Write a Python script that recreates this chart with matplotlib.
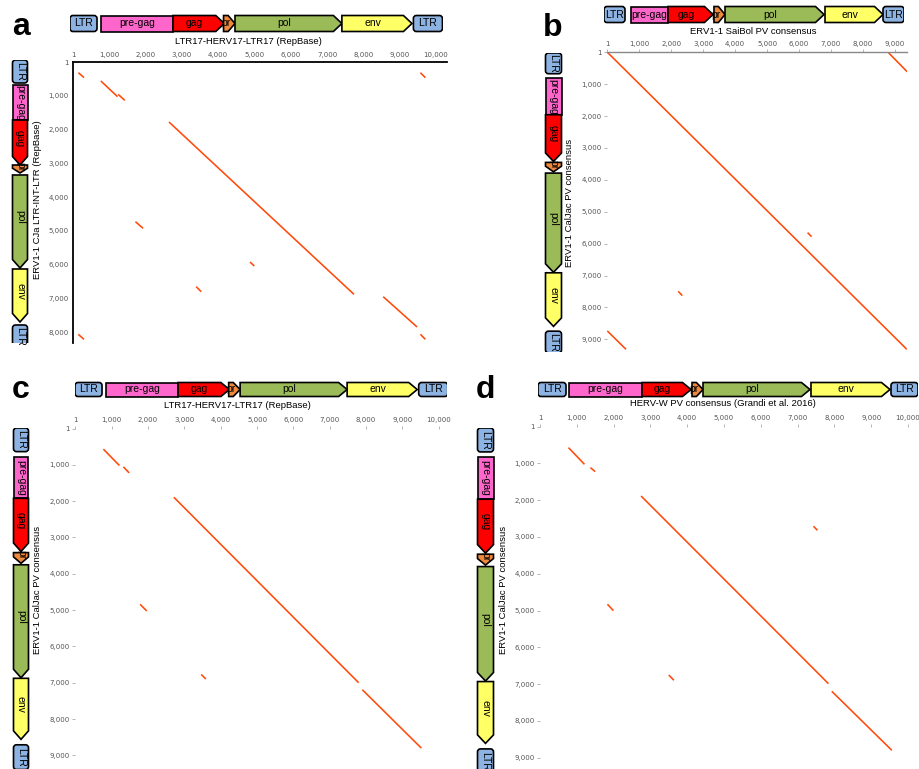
import numpy as np
import matplotlib
matplotlib.use('Agg')
import matplotlib.pyplot as plt
from matplotlib.patches import FancyBboxPatch, Polygon

plt.rcParams['font.family'] = ['Liberation Sans', 'DejaVu Sans']

W, H = 919, 769

# ---- genome annotation tracks (bp) ----
track_names = ['LTR', 'pre-gag', 'gag', 'pr', 'pol', 'env', 'LTR']

herv17_start = [0, 854, 2837, 4230, 4545, 7490, 9460]
herv17_end = [744, 2837, 4250, 4545, 7490, 9420, 10260]

cja_start = [0, 740, 1775, 3107, 3402, 6183, 7840]
cja_end = [680, 1775, 3107, 3343, 6154, 7751, 8520]

saibol_start = [0, 845, 2002, 3441, 3786, 6915, 8730]
saibol_end = [657, 2002, 3410, 3786, 6884, 8730, 9387]

caljac_start = [0, 790, 1935, 3430, 3765, 6890, 8720]
caljac_end = [650, 1935, 3400, 3725, 6875, 8570, 9400]

hervw_start = [0, 842, 2826, 4185, 4484, 7418, 9592]
hervw_end = [761, 2826, 4158, 4484, 7391, 9565, 10326]

# ---- dot plot matches (x start, x end, y start, y end) ----
a_x0 = [150, 768, 1244, 2644, 9570, 1720, 4877, 3394, 8545, 146, 9570]
a_x1 = [302, 1226, 1427, 7740, 9707, 1930, 4995, 3531, 9478, 302, 9707]
a_y0 = [316, 562, 957, 1775, 316, 4724, 5917, 6647, 6943, 8057, 8057]
a_y1 = [463, 1026, 1134, 6874, 463, 4921, 6036, 6795, 7840, 8205, 8205]

b_x0 = [0, 8801, 0, 6267, 2221]
b_x1 = [9370, 9385, 584, 6392, 2346]
b_y0 = [0, 18, 8738, 5657, 7496]
b_y1 = [9313, 616, 9313, 5783, 7632]

c_x0 = [771, 1322, 2709, 7897, 1781, 3462]
c_x1 = [1212, 1478, 7796, 9522, 1965, 3590]
c_y0 = [569, 1056, 1892, 7190, 4839, 6768]
c_y1 = [1019, 1221, 6997, 8797, 5023, 6896]

d_x0 = [774, 1371, 2747, 7929, 7431, 1832, 3500]
d_x1 = [1208, 1498, 7838, 9560, 7540, 1996, 3636]
d_y0 = [574, 1118, 1889, 7196, 2711, 4831, 6752]
d_y1 = [1027, 1226, 6988, 8799, 2821, 5004, 6896]

x_ticks_10k = [1] + list(range(1000, 10001, 1000))
x_ticks_9k = [1] + list(range(1000, 9001, 1000))
y_ticks_8k = [1] + list(range(1000, 8001, 1000))
y_ticks_9k = [1] + list(range(1000, 9001, 1000))

colors = {'LTR': '#8db3e2', 'pre-gag': '#ff66cc', 'gag': '#ff0000',
          'pr': '#f0883c', 'pol': '#9bbb59', 'env': '#ffff66'}
dot_color = '#ff4a0a'

fig = plt.figure(figsize=(W / 100, H / 100), dpi=100)


def add_ax(x0, y0, x1, y1):
    return fig.add_axes([x0 / W, 1 - y1 / H, (x1 - x0) / W, (y1 - y0) / H])


def draw_track(box, scale, starts, ends, vertical):
    ax = add_ax(*box)
    ax.axis('off')
    x0, y0, x1, y1 = box
    if vertical:
        along_px, across_px = y1 - y0, x1 - x0
    else:
        along_px, across_px = x1 - x0, y1 - y0
    lim = along_px / scale * 1000
    bp_px = lim / along_px
    c0, c1 = 1.5 / across_px, 1 - 1.5 / across_px
    if vertical:
        ax.set_xlim(0, 1)
        ax.set_ylim(lim, 0)
    else:
        ax.set_xlim(0, lim)
        ax.set_ylim(0, 1)
    for name, s, e in zip(track_names, starts, ends):
        fc = colors[name]
        if name == 'LTR':
            if vertical:
                p = FancyBboxPatch((c0, s), c1 - c0, e - s,
                                   boxstyle='round,pad=0,rounding_size=%f' % (3 / across_px),
                                   mutation_aspect=bp_px * across_px)
            else:
                p = FancyBboxPatch((s, c0), e - s, c1 - c0,
                                   boxstyle='round,pad=0,rounding_size=%f' % (3 * bp_px),
                                   mutation_aspect=1 / (across_px * bp_px))
            mid = (s + e) / 2
        else:
            h = 0 if name == 'pre-gag' else min(8.5 * bp_px, (e - s) * 0.6)
            pts = [(s, c0), (e - h, c0), (e, 0.5), (e - h, c1), (s, c1)]
            if vertical:
                pts = [(c, a) for a, c in pts]
            p = Polygon(pts, closed=True)
            mid = (s + e - h) / 2
        p.set_facecolor(fc)
        p.set_edgecolor('black')
        p.set_linewidth(1.2)
        p.set_joinstyle('miter')
        ax.add_patch(p)
        if vertical:
            t = ax.text(0.5, mid, name, rotation=270, ha='center', va='center', fontsize=7.5)
        else:
            t = ax.text(mid, 0.5, name, ha='center', va='center', fontsize=7.5)
        t.set_clip_path(p)
    return ax


def draw_dots(box, sx, sy, x0s, x1s, y0s, y1s, xt, yt, style):
    ax = add_ax(*box)
    bx0, by0, bx1, by1 = box
    ax.set_xlim(0, (bx1 - bx0) / sx * 1000)
    ax.set_ylim((by1 - by0) / sy * 1000, 0)
    ax.plot(np.array([x0s, x1s]), np.array([y0s, y1s]), color=dot_color,
            lw=1.15, solid_capstyle='butt')
    ax.xaxis.tick_top()
    ax.set_xticks(xt)
    ax.set_xticklabels([f'{v:,}' for v in xt])
    ax.set_yticks(yt)
    ax.set_yticklabels([f'{v:,}' for v in yt])
    for sp in ax.spines.values():
        sp.set_visible(False)
    if style == 'a':
        ax.spines['top'].set_visible(True)
        ax.spines['left'].set_visible(True)
        ax.spines['top'].set_linewidth(1.3)
        ax.spines['left'].set_linewidth(1.3)
        ax.tick_params(length=0, pad=3)
    elif style == 'b':
        ax.spines['top'].set_visible(True)
        ax.spines['top'].set_color('#888888')
        ax.spines['top'].set_linewidth(1.0)
        ax.tick_params(length=2, width=0.6, color='#aaaaaa', pad=2)
    else:
        ax.tick_params(length=2.5, width=0.6, color='#aaaaaa', pad=1.5)
    ax.tick_params(labelsize=5, labelcolor='#555555')
    for lab in ax.get_xticklabels() + ax.get_yticklabels():
        lab.set_family('DejaVu Sans')
    return ax


def ftext(x, y, s, **kw):
    fig.text(x / W, 1 - y / H, s, **kw)


panels = [
    dict(letter='a', lpos=(21, 35),
         dots=((73, 62, 447, 343), 36.3, 33.8, a_x0, a_x1, a_y0, a_y1, x_ticks_10k, y_ticks_8k, 'a'),
         top=((70, 14, 443, 33), 36.3, herv17_start, herv17_end),
         left=((11, 60, 29, 343), 33.8, cja_start, cja_end),
         title=('LTR17-HERV17-LTR17 (RepBase)', 248, 41),
         ylab=('ERV1-1 CJa LTR-INT-LTR (RepBase)', 38, 200)),
    dict(letter='b', lpos=(553, 36),
         dots=((607.3, 52.2, 907, 349.5), 31.96, 31.9, b_x0, b_x1, b_y0, b_y1, x_ticks_9k, y_ticks_9k, 'b'),
         top=((604, 5, 904, 24), 31.96, saibol_start, saibol_end),
         left=((544, 53, 563, 352), 31.9, caljac_start, caljac_end),
         title=('ERV1-1 SaiBol PV consensus', 753, 31),
         ylab=('ERV1-1 CalJac PV consensus', 570, 203)),
    dict(letter='c', lpos=(21, 398),
         dots=((75.4, 428.5, 447, 769), 36.33, 36.33, c_x0, c_x1, c_y0, c_y1, x_ticks_10k, y_ticks_9k, 'c'),
         top=((75, 381, 447, 398), 36.33, herv17_start, herv17_end),
         left=((12, 428, 30, 769), 36.33, caljac_start, caljac_end),
         title=('LTR17-HERV17-LTR17 (RepBase)', 237, 405),
         ylab=('ERV1-1 CalJac PV consensus', 38, 590)),
    dict(letter='d', lpos=(485, 398),
         dots=((540, 426.5, 919, 769), 36.8, 36.8, d_x0, d_x1, d_y0, d_y1, x_ticks_10k, y_ticks_9k, 'd'),
         top=((538, 381, 918, 398), 36.8, hervw_start, hervw_end),
         left=((476, 428, 495, 769), 36.8, caljac_start, caljac_end),
         title=('HERV-W PV consensus (Grandi et al. 2016)', 723, 404),
         ylab=('ERV1-1 CalJac PV consensus', 503, 590)),
]

for p in panels:
    draw_dots(*p['dots'])
    draw_track(*p['top'], vertical=False)
    draw_track(*p['left'], vertical=True)
    s, x, y = p['title']
    ftext(x, y, s, ha='center', va='center', fontsize=6.8)
    s, x, y = p['ylab']
    ftext(x, y, s, ha='center', va='center', rotation=90, fontsize=6.8)
    ftext(p['lpos'][0], p['lpos'][1], p['letter'], ha='center', va='baseline',
          fontsize=23, fontweight='bold')

fig.savefig('out.png', dpi=100)
